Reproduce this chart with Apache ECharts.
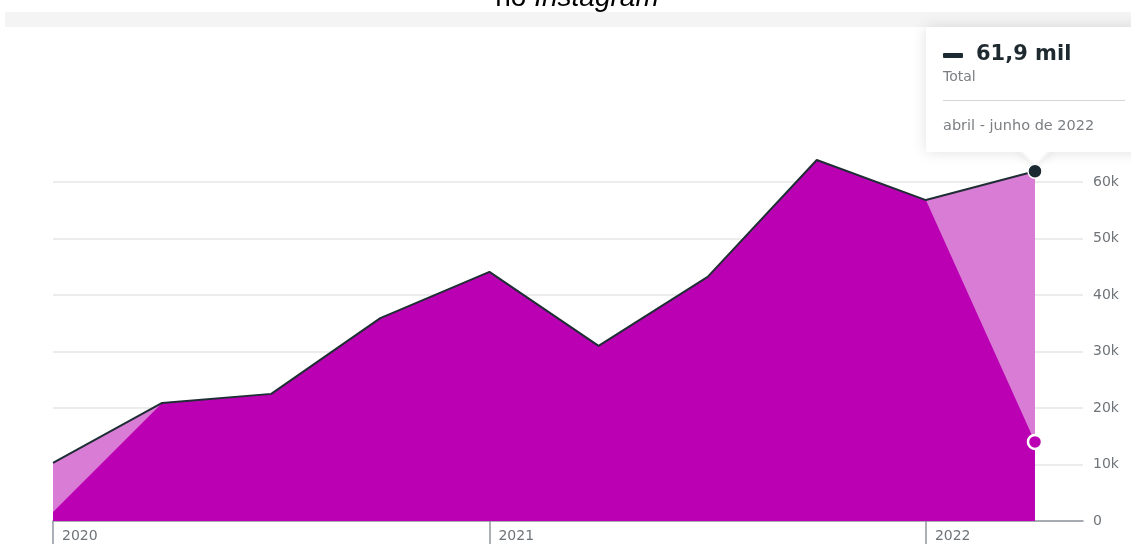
<!DOCTYPE html>
<html>
<head>
<meta charset="utf-8">
<script src="https://cdn.jsdelivr.net/npm/echarts@6/dist/echarts.min.js"></script>
<style>
html,body{margin:0;padding:0;background:#fff;}
#chart{width:1131px;height:544px;}
</style>
</head>
<body>
<div id="chart"></div>
<script>
// Quarters (T1 2020 ... T2 2022)
const quarters = ['jan-mar 2020','abr-jun 2020','jul-set 2020','out-dez 2020','jan-mar 2021','abr-jun 2021','jul-set 2021','out-dez 2021','jan-mar 2022','abril - junho de 2022'];
const yearLabels = ['2020','2021','2022'];
const yearTickIndex = [0, 4, 8];
// Total (upper line, light area)
const totalValues = [10300, 20900, 22500, 35900, 44100, 31000, 43200, 63900, 56800, 61900];
// Front series (dark magenta area)
const frontValues = [1600, 20900, 22500, 35900, 44100, 31000, 43200, 63900, 56800, 14000];
const titleText = ['no ', 'Instagram'];
const tooltipLabel = 'Total';

const last = totalValues.length - 1;
const totalData = totalValues.map((v, i) => [i, v]);
const frontData = frontValues.map((v, i) => [i, v]);
const lineData = totalValues.map((v, i) => i === last
  ? { value: [i, v], symbol: 'circle', symbolSize: 14, itemStyle: { color: '#1c2a33', borderColor: '#fff', borderWidth: 1.5 } }
  : [i, v]);
const frontMarkerData = frontValues.map((v, i) => i === last
  ? { value: [i, v], symbol: 'circle', symbolSize: 14, itemStyle: { color: '#bb00b4', borderColor: '#fff', borderWidth: 2.5 } }
  : [i, v]);

const fmtMil = v => (v / 1000).toFixed(1).replace('.', ',') + ' mil';

const chart = echarts.init(document.getElementById('chart'), null, { renderer: 'canvas' });
const font = '"DejaVu Sans", sans-serif';

chart.setOption({
  animation: false,
  backgroundColor: '#fff',
  grid: { left: 53, right: 48, top: 182, bottom: 23 },
  xAxis: {
    type: 'value',
    min: 0,
    max: 9.44,
    splitLine: { show: false },
    axisLine: { show: true, lineStyle: { color: '#8e969e', width: 1.5 } },
    axisTick: { show: true, customValues: yearTickIndex, length: 24, lineStyle: { color: '#8e969e', width: 1.5 } },
    axisLabel: {
      customValues: yearTickIndex,
      formatter: v => yearLabels[yearTickIndex.indexOf(Math.round(v))] || '',
      align: 'left',
      padding: [0, 0, 0, 9],
      margin: 8,
      color: '#6f7479',
      fontFamily: font,
      fontSize: 14
    }
  },
  yAxis: {
    type: 'value',
    position: 'right',
    min: 0,
    max: 60000,
    interval: 10000,
    axisLine: { show: false },
    axisTick: { show: false },
    splitLine: { show: true, lineStyle: { color: '#e6e6e6', width: 1.5 } },
    axisLabel: {
      formatter: v => v === 0 ? '0' : (v / 1000) + 'k',
      margin: 10,
      color: '#6f7479',
      fontFamily: font,
      fontSize: 14
    }
  },
  series: [
    {
      type: 'line',
      data: totalData,
      clip: false,
      symbol: 'none',
      lineStyle: { width: 0 },
      areaStyle: { color: '#d97cd5', opacity: 1 },
      z: 2
    },
    {
      type: 'line',
      data: frontData,
      clip: false,
      symbol: 'none',
      lineStyle: { width: 0 },
      areaStyle: { color: '#bb00b4', opacity: 1 },
      z: 3
    },
    {
      type: 'line',
      data: lineData,
      clip: false,
      symbol: 'none',
      showSymbol: true,
      lineStyle: { color: '#1f2d35', width: 2 },
      z: 4,
      markLine: {
        silent: true,
        symbol: 'none',
        label: { show: false },
        lineStyle: { color: '#4f5d72', width: 1.5, type: 'solid' },
        data: [[{ coord: [last, totalValues[last]] }, { coord: [last, 0] }]]
      }
    },
    {
      type: 'line',
      data: frontMarkerData,
      clip: false,
      symbol: 'none',
      showSymbol: true,
      lineStyle: { width: 0 },
      z: 5
    }
  ],
  graphic: [
    { type: 'rect', shape: { x: 5, y: 12, width: 1126, height: 15 }, style: { fill: '#f4f4f4' }, z: 1 },
    {
      type: 'text', x: 577, y: 12, z: 10,
      style: {
        text: '{a|' + titleText[0] + '}{b|' + titleText[1] + '}',
        align: 'center', verticalAlign: 'bottom',
        rich: {
          a: { fontFamily: 'Liberation Sans, Arial, sans-serif', fontSize: 28, fill: '#000' },
          b: { fontFamily: 'Liberation Sans, Arial, sans-serif', fontSize: 28, fontStyle: 'italic', fill: '#000' }
        }
      }
    },
    {
      type: 'polygon', z: 100,
      shape: { points: [[1016, 150], [1054, 150], [1035, 165]] },
      style: { fill: '#fff', shadowBlur: 8, shadowColor: 'rgba(0,0,0,0.10)' }
    },
    {
      type: 'rect', z: 101,
      shape: { x: 926, y: 27, width: 220, height: 125 },
      style: { fill: '#fff', shadowBlur: 14, shadowColor: 'rgba(0,0,0,0.12)' }
    },
    {
      type: 'polygon', z: 102,
      shape: { points: [[1018, 148], [1052, 148], [1035, 163]] },
      style: { fill: '#fff' }
    },
    { type: 'rect', z: 103, shape: { x: 943, y: 53, width: 20, height: 5, r: 1 }, style: { fill: '#1c2a33' } },
    {
      type: 'text', z: 103, x: 976, y: 55,
      style: { text: fmtMil(totalValues[last]), fontFamily: font, fontSize: 21, fontWeight: 'bold', fill: '#1f2a30', verticalAlign: 'middle' }
    },
    {
      type: 'text', z: 103, x: 943, y: 77,
      style: { text: tooltipLabel, fontFamily: font, fontSize: 14, fill: '#7b7f83', verticalAlign: 'middle' }
    },
    { type: 'rect', z: 103, shape: { x: 943, y: 100, width: 182, height: 1 }, style: { fill: '#d5d5d5' } },
    {
      type: 'text', z: 103, x: 943, y: 126,
      style: { text: quarters[last], fontFamily: font, fontSize: 14.5, fill: '#7b7f83', verticalAlign: 'middle' }
    }
  ]
});
</script>
</body>
</html>
